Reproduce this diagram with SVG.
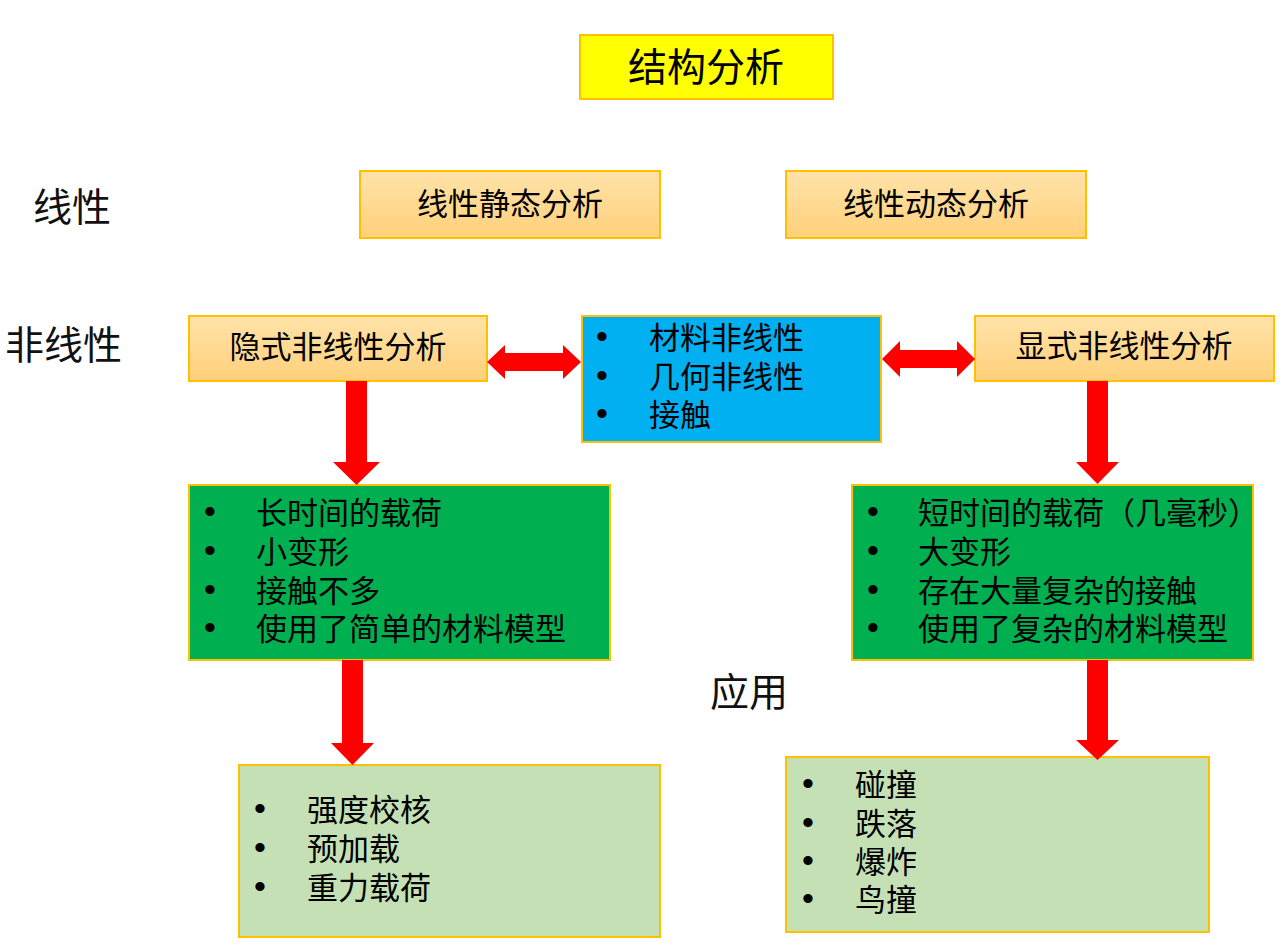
<svg xmlns="http://www.w3.org/2000/svg" width="1284" height="945" viewBox="0 0 1284 945">
<defs>
<linearGradient id="og" x1="0" y1="0" x2="0" y2="1">
<stop offset="0" stop-color="#FFE3AA"/>
<stop offset="1" stop-color="#FFD07A"/>
</linearGradient>
<style>
text{font-family:"Noto Sans CJK SC","Noto Sans",sans-serif;fill:#000;dominant-baseline:central}
.box{stroke:#FFC000;stroke-width:2}
.orange{fill:url(#og)}
.t{font-size:31px}
.c{text-anchor:middle}
.lbl{font-size:39px;fill:#111}
.b{font-family:"Liberation Sans",sans-serif;font-size:34px}
.arr{fill:#FF0000}
</style>
</defs>
<rect width="1284" height="945" fill="#fff"/>

<g id="labels">
<text class="lbl" x="33" y="204">线性</text>
<text class="lbl" x="5" y="342">非线性</text>
<text class="lbl" x="710" y="689">应用</text>
</g>

<g id="title">
<rect class="box" x="580" y="35" width="253" height="64" fill="#FFFF00"/>
<text class="c" x="706" y="64" font-size="39">结构分析</text>
</g>

<g id="linear-static">
<rect class="box orange" x="360" y="171" width="300" height="67"/>
<text class="t c" x="510" y="201">线性静态分析</text>
</g>

<g id="linear-dynamic">
<rect class="box orange" x="786" y="171" width="300" height="67"/>
<text class="t c" x="936" y="201">线性动态分析</text>
</g>

<g id="implicit">
<rect class="box orange" x="189" y="316" width="298" height="65"/>
<text class="t c" x="338" y="344">隐式非线性分析</text>
</g>

<g id="nonlinear-types">
<rect class="box" x="582" y="316" width="299" height="126" fill="#00B0F0"/>
<text class="t"><tspan class="b" x="596" y="336">•</tspan><tspan x="649" y="335">材料非线性</tspan><tspan class="b" x="596" y="375">•</tspan><tspan x="649" y="374">几何非线性</tspan><tspan class="b" x="596" y="413">•</tspan><tspan x="649" y="412">接触</tspan></text>
</g>

<g id="explicit">
<rect class="box orange" x="975" y="316" width="299" height="65"/>
<text class="t c" x="1124" y="343">显式非线性分析</text>
</g>

<g id="implicit-features">
<rect class="box" x="189" y="485" width="421" height="175" fill="#00B050"/>
<text class="t"><tspan class="b" x="204" y="511">•</tspan><tspan x="256" y="510">长时间的载荷</tspan><tspan class="b" x="204" y="550">•</tspan><tspan x="256" y="549">小变形</tspan><tspan class="b" x="204" y="589">•</tspan><tspan x="256" y="588">接触不多</tspan><tspan class="b" x="204" y="627">•</tspan><tspan x="256" y="626">使用了简单的材料模型</tspan></text>
</g>

<g id="explicit-features">
<rect class="box" x="852" y="485" width="401" height="175" fill="#00B050"/>
<text class="t"><tspan class="b" x="867" y="511">•</tspan><tspan x="918" y="510">短时间的载荷（几毫秒）</tspan><tspan class="b" x="867" y="550">•</tspan><tspan x="918" y="549">大变形</tspan><tspan class="b" x="867" y="589">•</tspan><tspan x="918" y="588">存在大量复杂的接触</tspan><tspan class="b" x="867" y="627">•</tspan><tspan x="918" y="626">使用了复杂的材料模型</tspan></text>
</g>

<g id="implicit-apps">
<rect class="box" x="239" y="765" width="421" height="172" fill="#C5E0B4"/>
<text class="t"><tspan class="b" x="254" y="808">•</tspan><tspan x="307" y="807">强度校核</tspan><tspan class="b" x="254" y="847">•</tspan><tspan x="307" y="846">预加载</tspan><tspan class="b" x="254" y="886">•</tspan><tspan x="307" y="885">重力载荷</tspan></text>
</g>

<g id="explicit-apps">
<rect class="box" x="786" y="757" width="423" height="175" fill="#C5E0B4"/>
<text class="t"><tspan class="b" x="802" y="783">•</tspan><tspan x="855" y="782">碰撞</tspan><tspan class="b" x="802" y="822">•</tspan><tspan x="855" y="821">跌落</tspan><tspan class="b" x="802" y="860">•</tspan><tspan x="855" y="859">爆炸</tspan><tspan class="b" x="802" y="898">•</tspan><tspan x="855" y="897">鸟撞</tspan></text>
</g>

<g id="connectors">
<polygon class="arr" points="487,362 505,345 505,353 563,353 563,345 581,362 563,379 563,371 505,371 505,379"/>
<polygon class="arr" points="882,359 900,341 900,350 957,350 957,341 975,359 957,377 957,368 900,368 900,377"/>
<polygon class="arr" points="346,381 367,381 367,462 380,462 356.5,485 333,462 346,462"/>
<polygon class="arr" points="342,660 363,660 363,743 374,743 352.5,765 331,743 342,743"/>
<polygon class="arr" points="1087,381 1108,381 1108,462 1119,462 1097.5,484 1076,462 1087,462"/>
<polygon class="arr" points="1087,660 1108,660 1108,740 1119,740 1097.5,760 1076,740 1087,740"/>
</g>
</svg>
